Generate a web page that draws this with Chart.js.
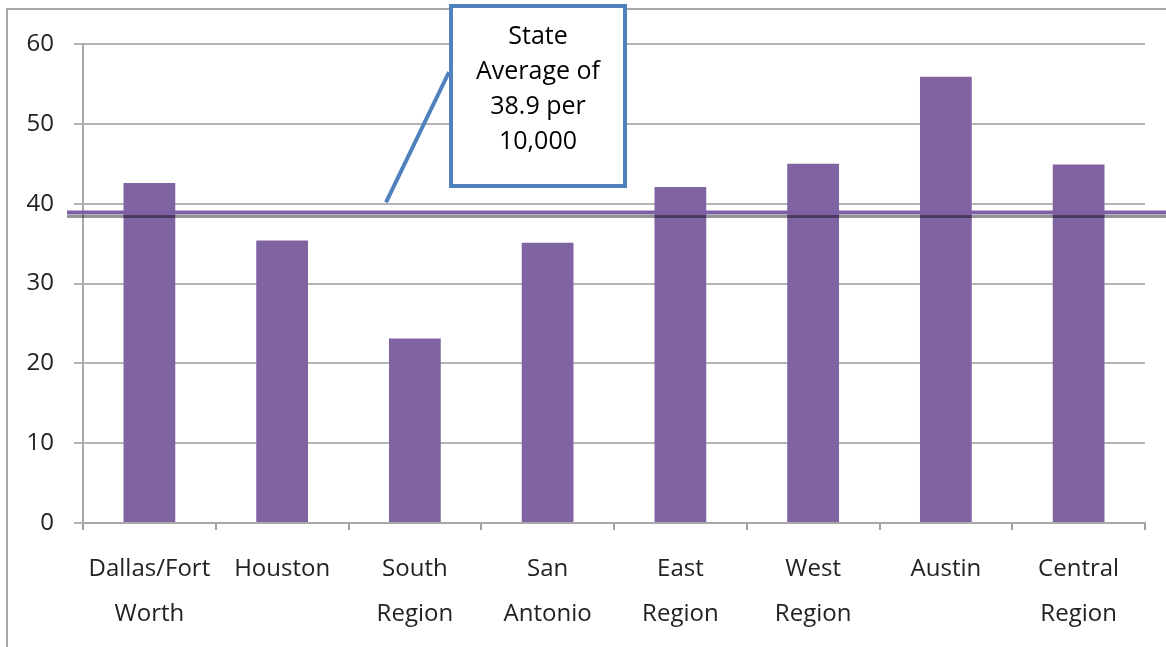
<!DOCTYPE html>
<html>
<head>
<meta charset="utf-8">
<script src="https://cdn.jsdelivr.net/npm/chart.js@4.4.1/dist/chart.umd.min.js"></script>
<style>
  html, body { margin: 0; padding: 0; background: #fff; }
  #wrap { width: 1166px; height: 647px; position: relative; }
</style>
</head>
<body>
<div id="wrap"><canvas id="canvas-chart"></canvas></div>
<script>
// regions and rate per 10,000
const regions = [
    ['Dallas/Fort', 'Worth'], 'Houston', ['South', 'Region'], ['San', 'Antonio'],
    ['East', 'Region'], ['West', 'Region'], 'Austin', ['Central', 'Region']
];
const rates = [42.6, 35.4, 23.1, 35.1, 42.1, 45.0, 55.9, 44.9];
const stateAverage = 38.9;
const calloutLines = ['State', 'Average of', '38.9 per', '10,000'];
const yTicks = [0, 10, 20, 30, 40, 50, 60];

let myChart = document.getElementById('canvas-chart');
let ctx = myChart.getContext('2d');

Chart.defaults.font.family = "'Open Sans', 'DejaVu Sans', sans-serif";
Chart.defaults.font.size = 24;
Chart.defaults.color = '#222';

// frame, average line and the callout box
const extras = {
    id: 'extras',
    beforeDraw(chart) {
        const c = chart.ctx;
        c.save();
        c.strokeStyle = '#a8a8a8';
        c.lineWidth = 2;
        c.beginPath();
        c.moveTo(7, chart.height);
        c.lineTo(7, 9);
        c.lineTo(chart.width, 9);
        c.stroke();
        c.restore();
    },
    afterDatasetsDraw(chart) {
        const c = chart.ctx;
        const y = chart.scales.y.getPixelForValue(stateAverage);
        c.save();
        // shadow under the line
        c.strokeStyle = 'rgba(0,0,0,0.42)';
        c.lineWidth = 3;
        c.beginPath();
        c.moveTo(67, y + 4);
        c.lineTo(chart.width, y + 4);
        c.stroke();
        c.strokeStyle = '#7d5fa6';
        c.lineWidth = 4;
        c.beginPath();
        c.moveTo(67, y);
        c.lineTo(chart.width, y);
        c.stroke();

        // pointer from the box down to the line
        c.strokeStyle = '#4f81bd';
        c.lineWidth = 4;
        c.beginPath();
        c.moveTo(449, 72);
        c.lineTo(386, y - 10);
        c.stroke();

        c.fillStyle = '#fff';
        c.fillRect(451, 6, 174, 180);
        c.strokeRect(451, 6, 174, 180);

        c.fillStyle = '#000';
        c.font = "25px 'Open Sans', sans-serif";
        c.textAlign = 'center';
        c.textBaseline = 'middle';
        calloutLines.forEach((t, i) => c.fillText(t, 538, 37 + i * 35));
        c.restore();
    }
};

let rateChart = new Chart(ctx, {
    type: 'bar',
    data: {
        labels: regions,
        datasets: [{
            label: 'Rate per 10,000',
            data: rates,
            backgroundColor: '#8064a2',
            barPercentage: 0.39,
            categoryPercentage: 1
        }]
    },
    options: {
        responsive: true,
        maintainAspectRatio: false,
        animation: false,
        layout: { padding: { top: 44, right: 21, left: 0, bottom: 0 } },
        plugins: {
            legend: { display: false },
            tooltip: { enabled: false }
        },
        scales: {
            x: {
                afterFit: s => { s.height = 124; },
                grid: {
                    offset: true,
                    drawOnChartArea: false,
                    tickLength: 7,
                    color: '#a0a0a0',
                    lineWidth: 2
                },
                border: { color: '#a8a8a8', width: 2 },
                ticks: {
                    padding: 16,
                    maxRotation: 0,
                    autoSkip: false,
                    font: { size: 24, lineHeight: 1.9 }
                }
            },
            y: {
                min: 0,
                max: 60,
                afterFit: s => { s.width = 83; },
                afterBuildTicks: s => { s.ticks = yTicks.map(v => ({ value: v })); },
                grid: {
                    color: '#b4b4b4',
                    lineWidth: 2,
                    tickLength: 9
                },
                border: { color: '#a8a8a8', width: 2 },
                ticks: {
                    padding: 20,
                    font: { size: 24 }
                }
            }
        }
    },
    plugins: [extras]
});
</script>
</body>
</html>
